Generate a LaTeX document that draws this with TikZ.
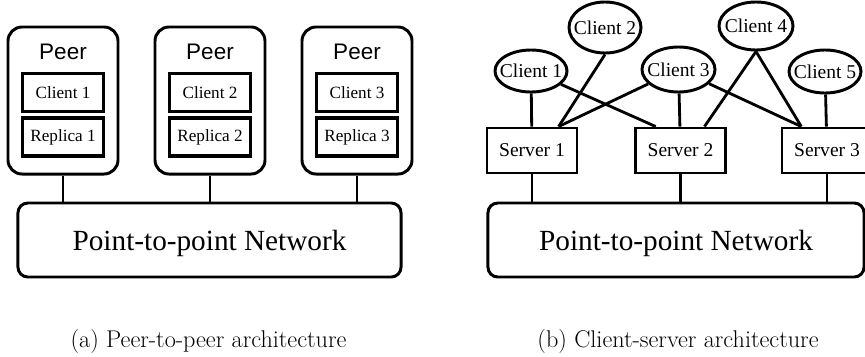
\documentclass[tikz,border=0pt]{standalone}
\usepackage{fontspec}
\newfontfamily\timesLike{Liberation Serif}
\newfontfamily\arialLike{Liberation Sans}
\usepackage{tikz}
\usetikzlibrary{shapes,calc,positioning}
\tikzset{
    x=0.025cm, y=-0.025cm, line join=round,
    peer/.style = {draw, line width=2.1pt, rounded corners=10pt, minimum width=2.75cm, minimum height=3.675cm, inner sep=0pt},
    peerlabel/.style = {anchor=base, inner sep=0pt, font=\arialLike\fontsize{16}{18}\selectfont},
    part/.style = {draw, line width=2.3pt, minimum width=2.025cm, minimum height=0.95cm, inner sep=0pt, font=\timesLike\fontsize{12.2}{14}\selectfont},
    network/.style = {draw, line width=2.1pt, rounded corners=7pt, minimum height=1.85cm, inner sep=0pt, text depth=0pt, font=\timesLike\fontsize{20.8}{24}\selectfont},
    clienttext/.style = {inner sep=0pt, font=\timesLike\fontsize{13.9}{16}\selectfont},
    client/.style = {ellipse, draw, line width=2.1pt, minimum width=1.8cm, minimum height=1.05cm, inner sep=0pt, label={[clienttext]center:#1}},
    server/.style = {draw, line width=2.1pt, minimum width=2.25cm, minimum height=1.125cm, inner sep=0pt, font=\timesLike\fontsize{13.9}{16}\selectfont},
    link/.style = {line width=2pt},
    caption/.style = {anchor=base, inner sep=0pt, font=\fontsize{17.2}{20}\selectfont}
}

\begin{document}
\begin{tikzpicture}
    \clip (0,0) rectangle (865,356);

    % (a) peer-to-peer
    \node[peer] (peer1) at (63,100.5) {};
    \node[peer] (peer2) at (210,100.5) {};
    \node[peer] (peer3) at (357,100.5) {};
    \foreach \i/\x in {1/63,2/210,3/357} {
        \node[peerlabel] (plabel\i) at (\x,59) {Peer};
        \node[part] (pclient\i) at (\x,92.5) {Client \i};
        \node[part] (replica\i) at (\x,137) {Replica \i};
    }
    \node[network, minimum width=9.575cm] (net1) at (209.5,240) {Point-to-point Network};
    \foreach \p in {peer1,peer2,peer3}
        \draw[link] (\p.south) -- (\p.south |- net1.north);

    % (b) client-server
    \node[client=Client 1] (c1) at (531,71) {};
    \node[client=Client 2, minimum height=1.275cm] (c2) at (605,27.5) {};
    \node[client=Client 3, minimum width=1.825cm, minimum height=1.125cm] (c3) at (678.5,69.5) {};
    \node[client=Client 4, minimum width=1.85cm, minimum height=1.2cm] (c4) at (756,26) {};
    \node[client=Client 5, minimum height=1.075cm] (c5) at (825,71.5) {};

    \node[server] (s1) at (532,150.5) {Server 1};
    \node[server] (s2) at (680.5,150.5) {Server 2};
    \node[server] (s3) at (827,150.5) {Server 3};

    \node[network, minimum width=9.4cm] (net2) at (676,240) {Point-to-point Network};

    \draw[link] (c1) -- (s1);
    \draw[link] (c2.south) -- (s1.42);
    \draw[link] (c3) -- (s1.42);
    \draw[link] (c1) -- (s2.136);
    \draw[link] (c3) -- (s2);
    \draw[link] (c4.south) -- (s2.45);
    \draw[link] (c3) -- (s3.137);
    \draw[link] (c4.south) -- (s3.137);
    \draw[link] (c5) -- (s3);
    \foreach \s in {s1,s2,s3}
        \draw[link] (\s.south) -- (\s.south |- net2.north);

    % captions
    \node[caption] (capA) at (208.5,347) {(a) Peer-to-peer architecture};
    \node[caption] (capB) at (678,347) {(b) Client-server architecture};
\end{tikzpicture}
\end{document}
